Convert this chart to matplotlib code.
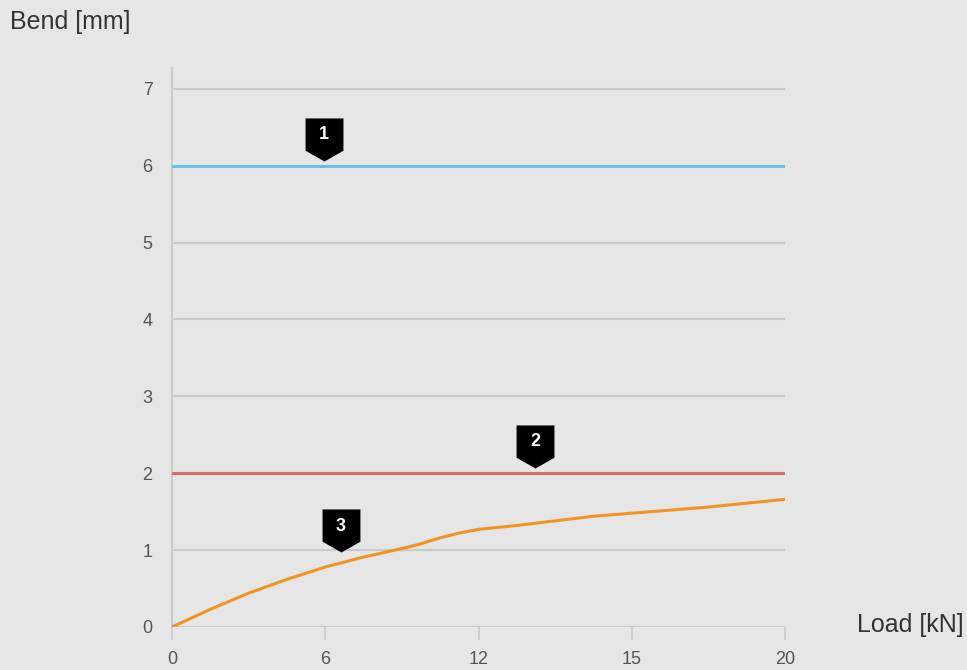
import matplotlib.pyplot as plt
from matplotlib.path import Path

# ======================
# Data
# ======================
x_tick_labels = ["0", "6", "12", "15", "20"]   # evenly spaced categories on the load axis
y_ticks = [0, 1, 2, 3, 4, 5, 6, 7]

limit_blue = 6.0
limit_red = 2.0

# measured curve, x in tick-position units (0..4)
curve_x = [0.0, 0.25, 0.5, 0.75, 1.0, 1.25, 1.5, 1.62, 1.75, 1.87, 2.0, 2.25, 2.5, 2.75, 3.0, 3.25, 3.5, 3.75, 4.0]
curve_y = [0.0, 0.23, 0.44, 0.62, 0.78, 0.91, 1.02, 1.08, 1.16, 1.22, 1.27, 1.32, 1.38, 1.44, 1.48, 1.52, 1.56, 1.61, 1.66]

badge_labels = ["1", "2", "3"]
badge_x = [0.99, 2.37, 1.10]
badge_y = [6.06, 2.07, 0.97]

# ======================
# Style
# ======================
BG = "#e6e6e6"
GRID = "#cdc9c9"
TEXT = "#333333"
TICK_TEXT = "#555555"
BLUE = "#62c3e5"
RED = "#dd6b6e"
ORANGE = "#f29423"

plt.rcParams["font.family"] = ["Liberation Sans", "DejaVu Sans"]

fig = plt.figure(figsize=(9.67, 6.70), dpi=100)
fig.patch.set_facecolor(BG)
ax = fig.add_axes([0.1779, 0.0642, 0.6339, 0.8343])
ax.set_facecolor(BG)

ax.set_xlim(0, 4)
ax.set_ylim(0, 7.27)

for s in ["top", "right", "bottom"]:
    ax.spines[s].set_visible(False)
ax.spines["left"].set_color(GRID)
ax.spines["left"].set_linewidth(1.5)

ax.set_yticks(y_ticks)
ax.set_xticks(range(len(x_tick_labels)))
ax.set_xticklabels(x_tick_labels)
ax.tick_params(axis="y", length=0, pad=14, labelsize=13, labelcolor=TICK_TEXT)
ax.tick_params(axis="x", length=9, width=1.2, color=GRID, pad=8, labelsize=13, labelcolor=TICK_TEXT)

ax.grid(axis="y", color=GRID, linewidth=1.5)
ax.set_axisbelow(True)

ax.axhline(limit_blue, color=BLUE, linewidth=2.2, zorder=3)
ax.axhline(limit_red, color=RED, linewidth=2.2, zorder=3)
ax.plot(curve_x, curve_y, color=ORANGE, linewidth=2.2, zorder=4)

# badge marker: box with a pointed bottom, tip at (0, 0)
badge_path = Path([(-0.44, 1.0), (0.44, 1.0), (0.44, 0.25), (0.0, 0.0), (-0.44, 0.25), (-0.44, 1.0)],
                  [Path.MOVETO, Path.LINETO, Path.LINETO, Path.LINETO, Path.LINETO, Path.CLOSEPOLY])
for lbl, bx, by in zip(badge_labels, badge_x, badge_y):
    ax.plot(bx, by, marker=badge_path, markersize=62, color="black", markeredgewidth=0,
            linestyle="none", zorder=5, clip_on=False)
    ax.annotate(lbl, (bx, by), xytext=(0, 19), textcoords="offset points",
                ha="center", va="center", color="white", fontsize=13, weight="bold", zorder=6)

fig.text(10 / 967, 1 - 22 / 670, "Bend [mm]", ha="left", va="center", fontsize=18, color=TEXT)
fig.text(857 / 967, 1 - 625 / 670, "Load [kN]", ha="left", va="center", fontsize=18, color=TEXT)

fig.savefig("out.png", dpi=100, facecolor=BG)
